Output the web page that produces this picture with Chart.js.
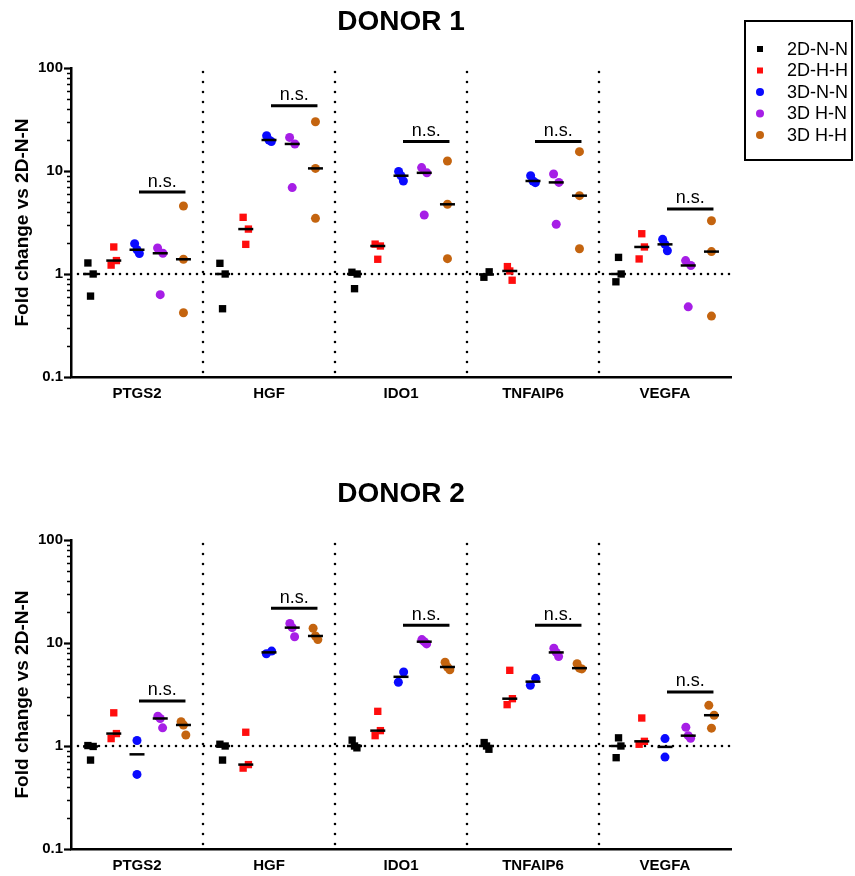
<!DOCTYPE html>
<html>
<head>
<meta charset="utf-8">
<script src="https://cdn.jsdelivr.net/npm/chart.js@4.4.1/dist/chart.umd.min.js"></script>
<style>
  html, body { margin: 0; padding: 0; background: #fff; }
  .bloco { position: relative; width: 855px; }
</style>
</head>
<body>
<div class="bloco" style="height:440px"><canvas id="grafico1"></canvas></div>
<div class="bloco" style="height:436px"><canvas id="grafico2"></canvas></div>
<script>
// Genes e condições
const genes = ['PTGS2', 'HGF', 'IDO1', 'TNFAIP6', 'VEGFA'];
const condicoes = ['2D-N-N', '2D-H-H', '3D-N-N', '3D H-N', '3D H-H'];
const cores = ['#000000', '#ff0d0d', '#0a0aff', '#a61ee6', '#c4640f'];
const ticksY = [0.1, 1, 10, 100];

// DONOR 1 - fold change por gene (replicatas)
const d1_2DNN = [[1.28, 0.61, 1.0], [1.27, 0.46, 1.0], [1.04, 0.72, 1.0], [0.93, 1.05], [1.45, 0.84, 1.0]];
const d1_2DHH = [[1.22, 1.83, 1.35], [3.55, 2.73, 1.94], [1.95, 1.39, 1.87], [1.18, 1.07, 0.87], [2.46, 1.4, 1.83]];
const d1_3DNN = [[1.97, 1.72, 1.58], [22.0, 20.0, 19.3], [9.9, 9.0, 8.0], [9.0, 8.0, 7.7], [2.17, 1.94, 1.68]];
const d1_3DHN = [[1.79, 0.63, 1.59], [21.2, 6.9, 18.3], [10.8, 3.74, 9.6], [9.35, 3.04, 7.75], [1.35, 0.48, 1.21]];
const d1_3DHH = [[4.57, 1.39, 0.42], [30.1, 10.6, 3.47], [12.5, 4.75, 1.41], [15.4, 5.76, 1.76], [3.29, 1.65, 0.39]];
const d1_ns = [6.25, 43, 19.3, 19.3, 4.28];

// DONOR 2
const d2_2DNN = [[1.01, 0.73, 0.99], [1.04, 0.73, 1.0], [1.14, 1.0, 0.96], [1.08, 1.0, 0.93], [0.77, 1.2, 1.0]];
const d2_2DHH = [[1.18, 2.1, 1.32], [0.61, 1.36, 0.66], [1.26, 2.17, 1.41], [2.52, 5.43, 2.88], [1.04, 1.87, 1.11]];
const d2_3DNN = [[1.13, 0.53], [7.87, 8.35], [4.16, 5.23], [3.89, 4.54], [1.18, 0.78]];
const d2_3DHN = [[1.95, 1.85, 1.5], [15.5, 14.1, 11.5], [10.8, 10.3, 9.8], [8.9, 8.1, 7.4], [1.52, 1.26, 1.19]];
const d2_3DHH = [[1.72, 1.6, 1.28], [13.9, 11.7, 10.8], [6.5, 5.85, 5.5], [6.3, 5.7, 5.6], [1.49, 2.48, 1.99]];
const d2_ns = [2.74, 21.7, 14.9, 14.9, 3.35];

const FONTE = '"Liberation Sans", Arial, sans-serif';

function posicao(g, c) {
    return g + (c - 2) * 0.176;
}

function mediana(vals) {
    const s = vals.slice().sort((a, b) => a - b);
    const m = Math.floor(s.length / 2);
    return s.length % 2 ? s[m] : (s[m - 1] + s[m]) / 2;
}

// afasta lateralmente pontos que quase se sobrepõem (estilo scatter do GraphPad)
function espalhar(vals) {
    const idx = vals.map((v, i) => i).sort((a, b) => vals[a] - vals[b]);
    const desloc = vals.map(() => 0);
    let grupo = [idx[0]];
    const fechar = () => {
        const ord = grupo.slice().sort((a, b) => a - b);
        const passo = ord.length === 2 ? 0.04 : 0.018;
        ord.forEach((i, k) => { desloc[i] = (k - (ord.length - 1) / 2) * passo; });
    };
    for (let k = 1; k < idx.length; k++) {
        if (Math.log10(vals[idx[k]] / vals[idx[k - 1]]) < 0.12) {
            grupo.push(idx[k]);
        } else {
            fechar();
            grupo = [idx[k]];
        }
    }
    fechar();
    return desloc;
}

function montarDatasets(reps) {
    const ds = [];
    const medianas = [];
    reps.forEach((porGene, c) => {
        const pontos = [];
        porGene.forEach((vals, g) => {
            const d = espalhar(vals);
            vals.forEach((v, i) => pontos.push({ x: posicao(g, c) + d[i], y: v }));
            medianas.push({ x: posicao(g, c), y: mediana(vals) });
        });
        ds.push({
            label: condicoes[c],
            data: pontos,
            pointStyle: c < 2 ? 'rect' : 'circle',
            pointRadius: c < 2 ? 5.2 : 4.5,
            pointBackgroundColor: cores[c],
            pointBorderColor: cores[c],
            pointBorderWidth: 0
        });
    });
    ds.unshift({
        label: 'mediana',
        data: medianas,
        pointStyle: 'line',
        pointRadius: 7.5,
        pointBorderColor: '#000',
        pointBorderWidth: 2.5,
        order: -1
    });
    return ds;
}

function linha(ctx, x1, y1, x2, y2) {
    ctx.beginPath();
    ctx.moveTo(x1, y1);
    ctx.lineTo(x2, y2);
    ctx.stroke();
}

const decoracao = {
    id: 'decoracao',
    beforeDatasetsDraw(chart, args, opts) {
        const { ctx, chartArea: a, scales: { x, y } } = chart;
        ctx.save();
        ctx.strokeStyle = '#000';
        ctx.lineCap = 'round';
        ctx.lineWidth = 2.6;
        // linha pontilhada em 1
        ctx.setLineDash([0, 7]);
        const y1 = y.getPixelForValue(1);
        linha(ctx, a.left + 7, y1, a.right + 4, y1);
        // separadores entre genes
        ctx.setLineDash([0, 10]);
        for (let g = 1; g < genes.length; g++) {
            const xs = x.getPixelForValue(g - 0.5);
            linha(ctx, xs, a.top + 4, xs, a.bottom);
        }
        ctx.restore();
    },
    afterDatasetsDraw(chart, args, opts) {
        const { ctx, scales: { x, y } } = chart;
        ctx.save();
        ctx.strokeStyle = '#000';
        ctx.fillStyle = '#000';
        ctx.lineWidth = 3;
        ctx.font = '18px ' + FONTE;
        ctx.textAlign = 'center';
        ctx.textBaseline = 'alphabetic';
        opts.barras.forEach((v, g) => {
            const yb = y.getPixelForValue(v);
            const xa = x.getPixelForValue(posicao(g, 2)) + 2;
            const xb = x.getPixelForValue(posicao(g, 4)) + 2;
            linha(ctx, xa, yb, xb, yb);
            ctx.fillText('n.s.', (xa + xb) / 2, yb - 5.5);
        });
        ctx.restore();
    },
    afterDraw(chart, args, opts) {
        const { ctx, chartArea: a, scales: { y } } = chart;
        ctx.save();
        ctx.strokeStyle = '#000';
        ctx.fillStyle = '#000';
        // marcas do eixo y (maiores e menores)
        for (let e = -1; e <= 2; e++) {
            for (let k = 1; k <= 9; k++) {
                if (e === 2 && k > 1) break;
                const v = k * Math.pow(10, e);
                const yp = Math.round(y.getPixelForValue(v)) + 0.5;
                ctx.lineWidth = k === 1 ? 2.2 : 1.5;
                linha(ctx, a.left - (k === 1 ? 7 : 4), yp, a.left, yp);
            }
        }
        // título
        ctx.font = 'bold 28px ' + FONTE;
        ctx.textAlign = 'center';
        ctx.textBaseline = 'middle';
        ctx.fillText(opts.titulo, (a.left + a.right) / 2, opts.tituloY);
        // legenda
        if (opts.legenda) {
            ctx.lineWidth = 2;
            ctx.strokeRect(745, 21, 107, 139);
            ctx.font = '18px ' + FONTE;
            ctx.textAlign = 'left';
            condicoes.forEach((nome, c) => {
                const yl = 49 + c * 21.5;
                ctx.fillStyle = cores[c];
                if (c < 2) {
                    ctx.fillRect(757, yl - 3, 6, 6);
                } else {
                    ctx.beginPath();
                    ctx.arc(760, yl, 4, 0, Math.PI * 2);
                    ctx.fill();
                }
                ctx.fillStyle = '#000';
                ctx.fillText(nome, 787, yl + 1);
            });
        }
        ctx.restore();
    }
};

function criarGrafico(id, reps, barras, titulo, tituloY, legenda, topo, alturaX, fundo) {
    return new Chart(document.getElementById(id), {
        type: 'scatter',
        data: { datasets: montarDatasets(reps) },
        plugins: [decoracao],
        options: {
            responsive: true,
            maintainAspectRatio: false,
            animation: false,
            events: [],
            layout: { padding: { top: topo, left: 0, right: 124, bottom: fundo } },
            plugins: {
                legend: { display: false },
                tooltip: { enabled: false },
                decoracao: { barras, titulo, tituloY, legenda }
            },
            scales: {
                x: {
                    type: 'linear',
                    min: -0.5,
                    max: 4.5,
                    afterBuildTicks: s => { s.ticks = genes.map((n, i) => ({ value: i })); },
                    afterFit: s => { s.height = alturaX; },
                    ticks: {
                        autoSkip: false,
                        maxRotation: 0,
                        padding: 8,
                        color: '#000',
                        font: { family: FONTE, size: 15, weight: 'bold' },
                        callback: v => genes[Math.round(v)]
                    },
                    grid: { display: true, drawOnChartArea: false, drawTicks: false },
                    border: { color: '#000', width: 2.5 }
                },
                y: {
                    type: 'logarithmic',
                    min: 0.1,
                    max: 100,
                    afterBuildTicks: s => { s.ticks = ticksY.map(v => ({ value: v })); },
                    afterFit: s => { s.width = 71; },
                    ticks: {
                        autoSkip: false,
                        padding: 8,
                        color: '#000',
                        font: { family: FONTE, size: 15, weight: 'bold' },
                        callback: v => String(v)
                    },
                    grid: { display: true, drawOnChartArea: false, drawTicks: false },
                    border: { color: '#000', width: 2.5 },
                    title: {
                        display: true,
                        text: 'Fold change vs 2D-N-N',
                        color: '#000',
                        font: { family: FONTE, size: 19, weight: 'bold' },
                        padding: { top: 11, bottom: 0 }
                    }
                }
            }
        }
    });
}

criarGrafico('grafico1', [d1_2DNN, d1_2DHH, d1_3DNN, d1_3DHN, d1_3DHH], d1_ns, 'DONOR 1', 22, true, 68, 40, 23);
criarGrafico('grafico2', [d2_2DNN, d2_2DHH, d2_3DNN, d2_3DHN, d2_3DHH], d2_ns, 'DONOR 2', 54, false, 100, 27, 0);
</script>
</body>
</html>
